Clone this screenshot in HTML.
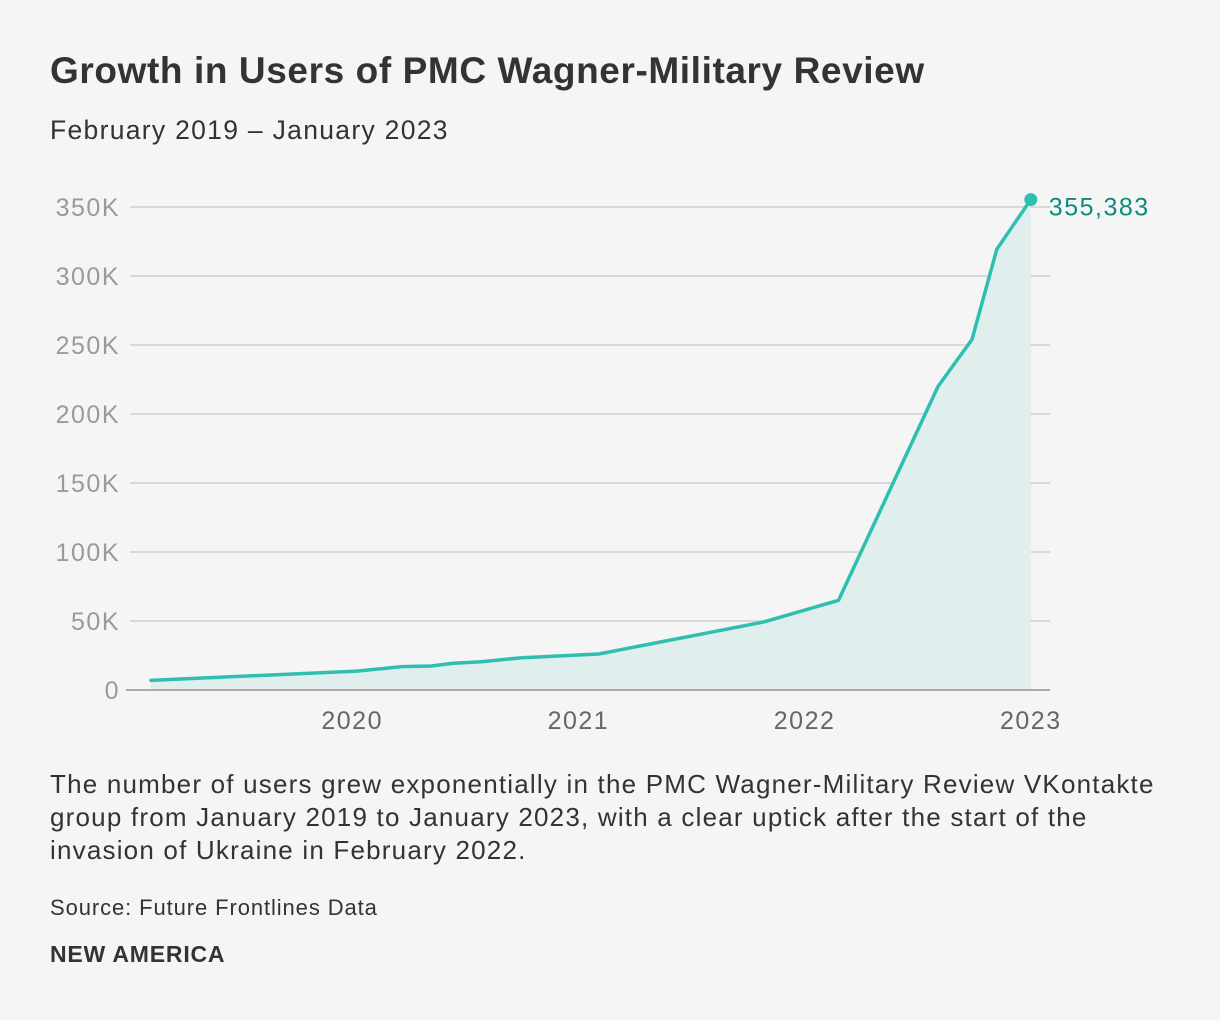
<!DOCTYPE html>
<html><head><meta charset="utf-8"><style>
body{margin:0;background:#f5f5f5;font-family:"Liberation Sans",sans-serif;color:#333;}
#wrap{position:relative;width:1220px;height:1020px;}
.t{position:absolute;margin:0;white-space:nowrap;}
</style></head><body>
<div id="wrap">
<h1 class="t" style="left:50px;top:50px;font-size:37px;letter-spacing:0.6px;font-weight:bold;color:#333;">Growth in Users of PMC Wagner-Military Review</h1>
<div class="t" style="left:50px;top:115px;font-size:26.5px;letter-spacing:1.3px;color:#333;">February 2019 – January 2023</div>
<svg id="chart" width="1220" height="760" style="position:absolute;left:0;top:0;"></svg>
<div class="t" style="left:50px;top:768px;font-size:26px;letter-spacing:1.2px;line-height:33px;color:#333;">The number of users grew exponentially in the PMC Wagner-Military Review VKontakte<br>group from January 2019 to January 2023, with a clear uptick after the start of the<br>invasion of Ukraine in February 2022.</div>
<div class="t" style="left:50px;top:895px;font-size:22px;letter-spacing:0.9px;color:#333;">Source: Future Frontlines Data</div>
<div class="t" style="left:50px;top:941px;font-size:23px;letter-spacing:0.8px;font-weight:bold;color:#333;">NEW AMERICA</div>
</div>
<script>
const dates=[2019.11,2020.02,2020.22,2020.35,2020.44,2020.57,2020.75,2021.09,2021.82,2022.15,2022.59,2022.74,2022.85,2023.0];
const users=[7000,13700,16900,17400,19300,20500,23400,26100,49300,65000,220000,254000,319500,355383];
const yTicks=[0,50000,100000,150000,200000,250000,300000,350000];
const yTickLabels=["0","50K","100K","150K","200K","250K","300K","350K"];
const xTicks=[2020,2021,2022,2023];
const endLabel="355,383";
const NS="http://www.w3.org/2000/svg";
const svg=document.getElementById('chart');
function X(d){return 126+(d-2019)*226.2;}
function Y(v){return 690-v/350000*483;}
function mk(tag,attrs){const e=document.createElementNS(NS,tag);for(const k in attrs)e.setAttribute(k,attrs[k]);svg.appendChild(e);return e;}
yTicks.forEach((v,i)=>{
  if(v>0){const g=mk('line',{x1:130,x2:1050,y1:Y(v),y2:Y(v),stroke:'#d8d8d8','stroke-width':2});
  
  }
  const t=mk('text',{x:120,y:Y(v)+9,'text-anchor':'end','font-size':25,'letter-spacing':1.5,fill:'#9a9a9a','font-family':'Liberation Sans, sans-serif'});
  t.textContent=yTickLabels[i];
  
  
});
let area='M'+X(dates[0])+','+Y(0);
dates.forEach((d,i)=>{area+=' L'+X(d)+','+Y(users[i]);});
area+=' L'+X(dates[dates.length-1])+','+Y(0)+' Z';
const a=mk('path',{d:area,fill:'#e0efee'});


const base=mk('line',{x1:126,x2:1050,y1:Y(0),y2:Y(0),stroke:'#aaaaaa','stroke-width':2});


const pts=dates.map((d,i)=>X(d)+','+Y(users[i])).join(' ');
const ln=mk('polyline',{points:pts,fill:'none',stroke:'#2fbfb0','stroke-width':3.5,'stroke-linejoin':'round','stroke-linecap':'round'});


const li=dates.length-1;
const dot=mk('circle',{cx:X(dates[li]),cy:Y(users[li]),r:6.5,fill:'#2fbfb0'});


const el=mk('text',{x:X(dates[li])+18,y:Y(users[li])+16,'font-size':25,'letter-spacing':1.5,fill:'#0d8a80','font-family':'Liberation Sans, sans-serif'});
el.textContent=endLabel;


xTicks.forEach(yr=>{
  const t=mk('text',{x:X(yr),y:729,'text-anchor':'middle','font-size':25,'letter-spacing':1.5,fill:'#666','font-family':'Liberation Sans, sans-serif'});
  t.textContent=String(yr);
  
  
});
</script>
</body></html>
